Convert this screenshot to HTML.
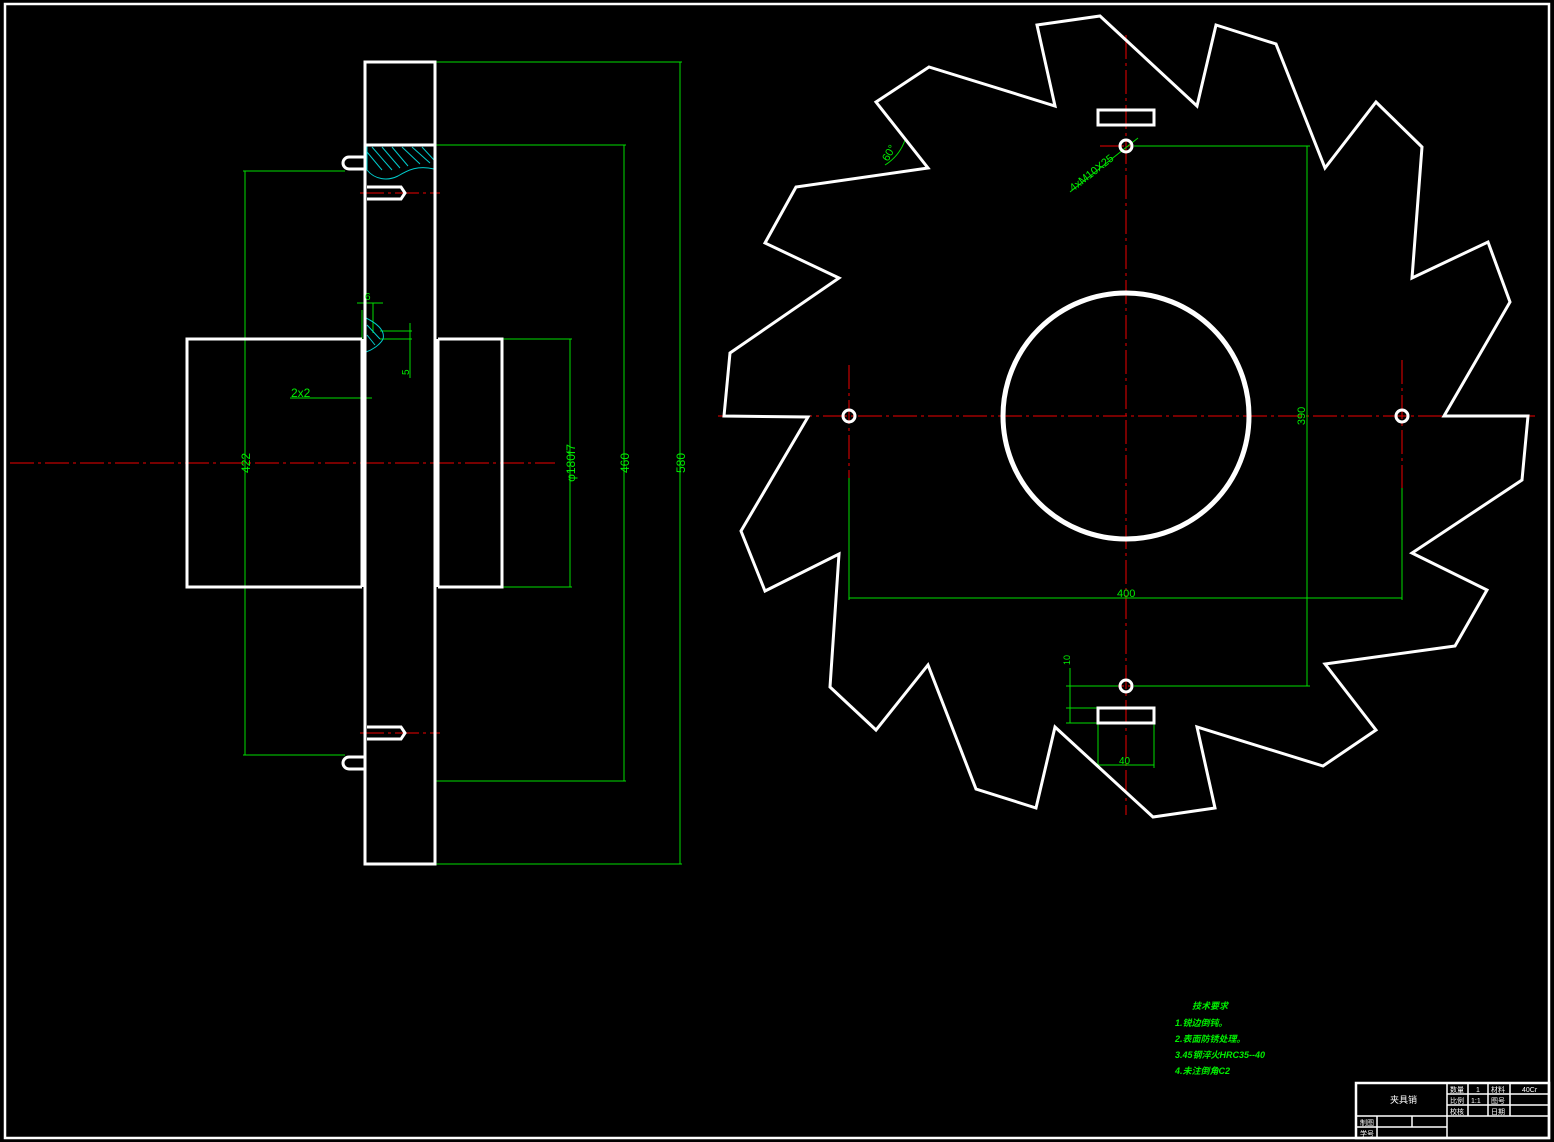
<!DOCTYPE html>
<html><head><meta charset="utf-8"><style>
html,body{margin:0;padding:0;background:#000;}
svg{display:block;}
text{font-family:"Liberation Sans","Noto Sans CJK SC",sans-serif;}
</style></head><body>
<svg width="1554" height="1142" viewBox="0 0 1554 1142" xmlns="http://www.w3.org/2000/svg">
<rect x="0" y="0" width="1554" height="1142" fill="#000"/>
<rect x="5" y="4" width="1544" height="1134" fill="none" stroke="#fff" stroke-width="2.5"/>

<g stroke="#e00" stroke-width="1" stroke-dasharray="24,4,3,4" fill="none">
<line x1="10" y1="463" x2="555" y2="463"/>
<line x1="360" y1="193" x2="440" y2="193"/>
<line x1="360" y1="733" x2="440" y2="733"/>
<line x1="718" y1="416" x2="1535" y2="416"/>
<line x1="1126" y1="35" x2="1126" y2="815"/>
<line x1="849" y1="365" x2="849" y2="478"/>
<line x1="1402" y1="360" x2="1402" y2="488"/>
<line x1="1100" y1="146" x2="1152" y2="146"/>
<line x1="1100" y1="686" x2="1152" y2="686"/>
</g>

<g stroke="#0d0" stroke-width="1" fill="none">
<line x1="436" y1="62" x2="682" y2="62"/><line x1="436" y1="864" x2="682" y2="864"/><line x1="680" y1="62" x2="680" y2="864"/>
<line x1="436" y1="145" x2="626" y2="145"/><line x1="436" y1="781" x2="626" y2="781"/><line x1="624" y1="145" x2="624" y2="781"/>
<line x1="503" y1="339" x2="572" y2="339"/><line x1="503" y1="587" x2="572" y2="587"/><line x1="570" y1="339" x2="570" y2="587"/>
<line x1="243" y1="171" x2="345" y2="171"/><line x1="243" y1="755" x2="345" y2="755"/><line x1="245" y1="171" x2="245" y2="755"/>
<line x1="290" y1="398" x2="372" y2="398"/>
<line x1="357" y1="303" x2="383" y2="303"/><line x1="373" y1="303" x2="373" y2="333"/>
<line x1="380" y1="331" x2="412" y2="331"/><line x1="380" y1="339" x2="412" y2="339"/><line x1="410" y1="323" x2="410" y2="378"/>
<line x1="362" y1="310" x2="362" y2="398"/><line x1="365" y1="310" x2="365" y2="398"/>
<line x1="849" y1="478" x2="849" y2="600"/><line x1="1402" y1="488" x2="1402" y2="600"/><line x1="849" y1="598" x2="1402" y2="598"/>
<line x1="1134" y1="146" x2="1310" y2="146"/><line x1="1134" y1="686" x2="1310" y2="686"/><line x1="1307" y1="146" x2="1307" y2="686"/>
<line x1="1066" y1="686" x2="1118" y2="686"/><line x1="1066" y1="708" x2="1098" y2="708"/><line x1="1066" y1="723" x2="1098" y2="723"/><line x1="1070" y1="668" x2="1070" y2="723"/>
<line x1="1098" y1="723" x2="1098" y2="768"/><line x1="1154" y1="723" x2="1154" y2="768"/><line x1="1098" y1="765" x2="1154" y2="765"/>
<line x1="1070" y1="192" x2="1138" y2="138"/>
<path d="M885,165 A48,48 0 0 0 905,140"/>
</g>

<g stroke="#0cc" stroke-width="1" fill="none">
<path d="M367,146 L434,146 L434,169 C418,165 408,170 398,176 C388,181 375,180 367,170 Z"/>
<path d="M372,147 L392,170 M382,147 L400,168 M392,147 L408,166 M402,147 L420,164 M412,147 L430,163 M422,147 L434,160 M367,152 L382,170"/>
<path d="M366,318 C380,325 385,332 383,339 C380,345 372,350 366,352"/>
<path d="M367,325 L380,339 M367,335 L375,345"/>
</g>

<g stroke="#fff" stroke-width="3" fill="none">
<rect x="365" y="62" width="70" height="802"/>
<line x1="365" y1="145" x2="435" y2="145"/>
<path d="M362,339 L187,339 L187,587 L362,587"/>
<path d="M438,339 L502,339 L502,587 L438,587"/>
<line x1="362" y1="339" x2="362" y2="587"/><line x1="438" y1="339" x2="438" y2="587"/>
<path d="M365,157 L349,157 A6,6 0 0 0 349,169 L365,169"/>
<path d="M365,757 L349,757 A6,6 0 0 0 349,769 L365,769"/>
<path d="M367,187 L401,187 L405,193 L401,199 L367,199"/>
<path d="M367,727 L401,727 L405,733 L401,739 L367,739"/>
<path d="M1037,25 L1100,16 L1197,106 L1216,25 L1276,44 L1325,168 L1376,102 L1422,147 L1412,278 L1488,242 L1510,302 L1444,416 L1528,416 L1522,480 L1412,553 L1487,590 L1455,646 L1325,664 L1376,730 L1323,766 L1197,727 L1215,808 L1153,817 L1055,727 L1036,808 L976,789 L928,665 L876,730 L830,687 L839,554 L765,591 L741,531 L808,417 L724,416 L730,353 L839,278 L765,243 L796,187 L928,168 L876,102 L929,67 L1055,106 Z"/>
<circle cx="1126" cy="416" r="123" stroke-width="5"/>
<circle cx="1126" cy="146" r="6"/><circle cx="849" cy="416" r="6"/><circle cx="1402" cy="416" r="6"/><circle cx="1126" cy="686" r="6"/>
<rect x="1098" y="110" width="56" height="15"/>
<rect x="1098" y="708" width="56" height="15"/>
</g>

<g fill="#0e0" font-size="12">
<text transform="translate(685,463) rotate(-90)" text-anchor="middle">580</text>
<text transform="translate(629,463) rotate(-90)" text-anchor="middle">460</text>
<text transform="translate(575,463) rotate(-90)" text-anchor="middle">φ180f7</text>
<text transform="translate(250,463) rotate(-90)" text-anchor="middle">422</text>
<text x="291" y="397">2x2</text>
<text x="365" y="300" font-size="10">6</text>
<text transform="translate(409,375) rotate(-90)" font-size="10">5</text>
<text x="1117" y="597" font-size="11">400</text>
<text transform="translate(1305,416) rotate(-90)" text-anchor="middle" font-size="11">390</text>
<text transform="translate(1070,665) rotate(-90)" font-size="9">10</text>
<text x="1119" y="764" font-size="10">40</text>
<text transform="translate(1073,192) rotate(-38)" font-size="11">4xM10X25</text>
<text transform="translate(888,162) rotate(-60)" font-size="11">60°</text>
</g>

<g fill="#0e0" font-size="9" font-style="italic" font-weight="bold">
<text x="1192" y="1009">技术要求</text>
<text x="1175" y="1026">1.锐边倒钝。</text>
<text x="1175" y="1042">2.表面防锈处理。</text>
<text x="1175" y="1058">3.45钢淬火HRC35--40</text>
<text x="1175" y="1074">4.未注倒角C2</text>
</g>

<g stroke="#fff" stroke-width="1.5" fill="none">
<rect x="1356" y="1083" width="193" height="55" stroke-width="2.5"/>
<line x1="1447" y1="1083" x2="1447" y2="1138"/>
<line x1="1447" y1="1094" x2="1549" y2="1094"/>
<line x1="1447" y1="1105" x2="1549" y2="1105"/>
<line x1="1356" y1="1116" x2="1549" y2="1116"/>
<line x1="1356" y1="1127" x2="1447" y2="1127"/>
<line x1="1468" y1="1083" x2="1468" y2="1116"/>
<line x1="1488" y1="1083" x2="1488" y2="1116"/>
<line x1="1510" y1="1083" x2="1510" y2="1116"/>
<line x1="1377" y1="1116" x2="1377" y2="1138"/>
<line x1="1412" y1="1116" x2="1412" y2="1127"/>
</g>
<g fill="#fff" font-size="7">
<text x="1390" y="1103" font-size="9">夹具销</text>
<text x="1450" y="1092">数量</text><text x="1476" y="1092">1</text><text x="1491" y="1092">材料</text><text x="1522" y="1092">40Cr</text>
<text x="1450" y="1103">比例</text><text x="1471" y="1103">1:1</text><text x="1491" y="1103">图号</text>
<text x="1450" y="1114">校核</text><text x="1491" y="1114">日期</text>
<text x="1360" y="1125">制图</text><text x="1360" y="1136">学号</text>
</g>
</svg>
</body></html>
